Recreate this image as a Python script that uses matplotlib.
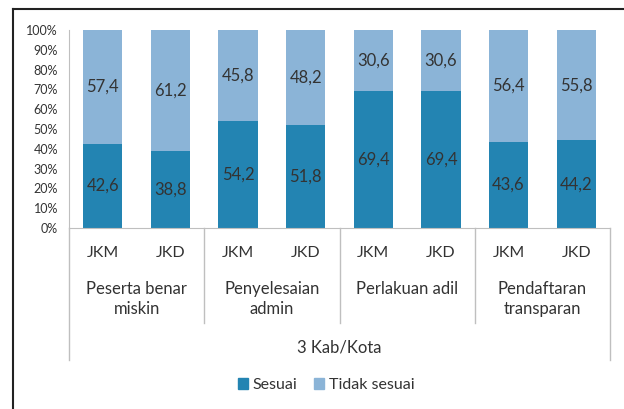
import matplotlib
matplotlib.use("Agg")
import matplotlib.pyplot as plt
from matplotlib.lines import Line2D
from matplotlib.patches import Patch
import matplotlib.transforms as mtransforms

plt.rcParams['font.family'] = ['Lato', 'DejaVu Sans']

groups = ["Peserta benar\nmiskin", "Penyelesaian\nadmin", "Perlakuan adil", "Pendaftaran\ntransparan"]
sub_labels = ["JKM", "JKD"]
sesuai = [42.6, 38.8, 54.2, 51.8, 69.4, 69.4, 43.6, 44.2]
tidak_sesuai = [57.4, 61.2, 45.8, 48.2, 30.6, 30.6, 56.4, 55.8]
outer_label = "3 Kab/Kota"
series_names = ["Sesuai", "Tidak sesuai"]
yticks = [0, 10, 20, 30, 40, 50, 60, 70, 80, 90, 100]

c_dark = "#2384B2"
c_light = "#8BB4D7"
txt = "#333333"
grid_c = "#bfbfbf"

W, H = 624, 409
fig = plt.figure(figsize=(W / 100, H / 100), dpi=100)
ax = fig.add_axes([69 / W, 1 - 228 / H, (610 - 69) / W, (228 - 30) / H])

x = list(range(len(sesuai)))
ax.bar(x, sesuai, width=0.58, color=c_dark, label=series_names[0])
ax.bar(x, tidak_sesuai, width=0.58, bottom=sesuai, color=c_light, label=series_names[1])

for xi, s, t in zip(x, sesuai, tidak_sesuai):
    ax.text(xi, s / 2, f"{s:.1f}".replace(".", ","), ha="center", va="center", fontsize=12, color=txt)
    ax.text(xi, s + t / 2, f"{t:.1f}".replace(".", ","), ha="center", va="center", fontsize=12, color=txt)

ax.set_xlim(-0.5, len(sesuai) - 0.5)
ax.set_ylim(0, 100)
ax.set_yticks(yticks)
ax.set_yticklabels([f"{v}%" for v in yticks], fontsize=9, color=txt)
ax.tick_params(axis="y", length=0, pad=8)
ax.set_xticks([])
for s in ["top", "right"]:
    ax.spines[s].set_visible(False)
ax.spines["left"].set_color(grid_c)
ax.spines["bottom"].set_color(grid_c)

trans = mtransforms.blended_transform_factory(ax.transData, ax.transAxes)
# sub labels
for xi in x:
    ax.text(xi, -0.126, sub_labels[xi % 2], transform=trans, ha="center", va="center", fontsize=11.5, color=txt)
# group labels
for gi, g in enumerate(groups):
    ax.text(2 * gi + 0.5, -0.268, g, transform=trans, ha="center", va="top", fontsize=12, color=txt, linespacing=1.3)
# separators
for sx in [1.5, 3.5, 5.5]:
    ax.add_line(Line2D([sx, sx], [0, -0.48], transform=trans, color=grid_c, lw=1, clip_on=False))
for sx in [-0.5, len(sesuai) - 0.5]:
    ax.add_line(Line2D([sx, sx], [0, -0.667], transform=trans, color=grid_c, lw=1, clip_on=False))
ax.text((len(sesuai) - 1) / 2, -0.606, outer_label, transform=trans, ha="center", va="center", fontsize=12, color=txt)

handles = [Patch(color=c_dark), Patch(color=c_light)]
fig.legend(handles, series_names, loc="center", bbox_to_anchor=(326 / W, 1 - 385 / H), ncol=2, frameon=False,
           fontsize=11.5, handlelength=0.65, handleheight=0.65, handletextpad=0.3, columnspacing=1.0, labelcolor=txt)

# outer frame lines (top and left)
fig.add_artist(Line2D([13 / W, 1], [1 - 9 / H, 1 - 9 / H], transform=fig.transFigure, color="#222222", lw=1.5))
fig.add_artist(Line2D([13 / W, 13 / W], [0, 1 - 9 / H], transform=fig.transFigure, color="#222222", lw=1.5))

fig.savefig("out.png", dpi=100)
